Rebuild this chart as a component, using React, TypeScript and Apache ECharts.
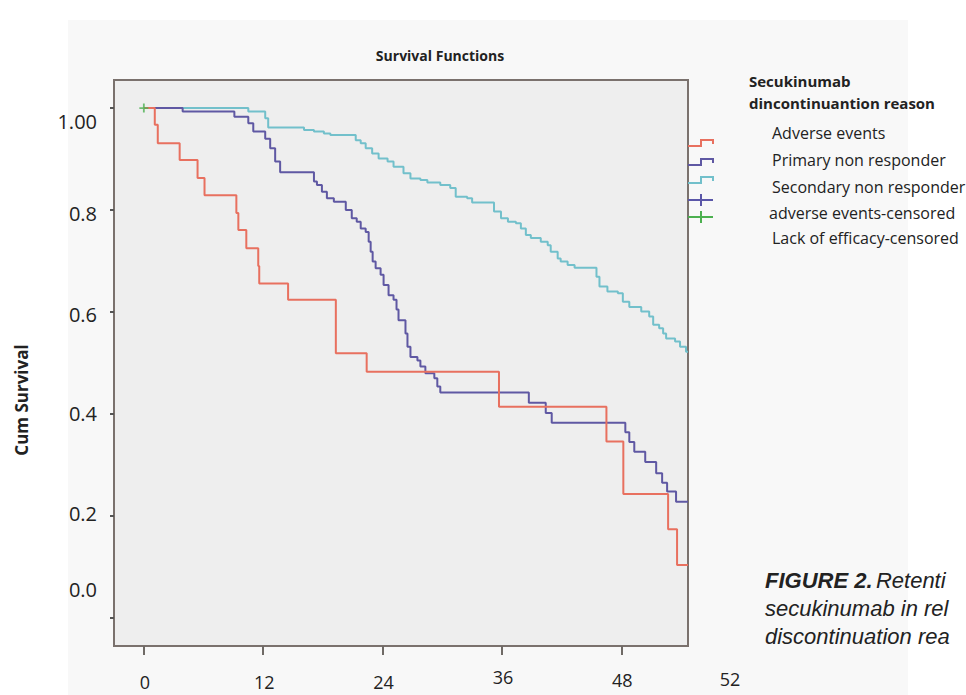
import React, { useEffect, useRef } from "react";
import * as echarts from "echarts";

const chartTitle = "Survival Functions";
const yAxisTitle = "Cum Survival";
const legendTitle = ["Secukinumab", "dincontinuantion reason"];
const seriesNames = [
  "Adverse events",
  "Primary non responder",
  "Secondary non responder",
  "adverse events-censored",
  "Lack of efficacy-censored",
];

const xTickValues = [0, 12, 24, 36, 48];
const xTickLabels = ["0", "12", "24", "36", "48"];
const xExtraLabel = "52";
const yTickValues = [0, 0.2, 0.4, 0.6, 0.8, 1.0];
const yTickLabels = ["0.0", "0.2", "0.4", "0.6", "0.8", "1.00"];

const adverseTimes = [0, 1.1, 1.4, 3.6, 5.4, 6.1, 9.3, 9.5, 10.3, 11.5, 11.6, 14.5, 19.3, 22.4, 35.7, 46.5, 48.2, 52.7, 53.6, 54.7];
const adverseSurv = [1.0, 0.967, 0.931, 0.898, 0.863, 0.829, 0.794, 0.761, 0.725, 0.69, 0.656, 0.624, 0.519, 0.483, 0.414, 0.346, 0.243, 0.174, 0.104, 0.104];

const primaryTimes = [0, 3.9, 9.1, 10.5, 11.0, 12.2, 12.7, 13.2, 13.7, 17.1, 17.4, 17.9, 18.4, 19.1, 20.3, 20.9, 21.4, 21.8, 22.3, 22.6, 22.8, 23.0, 23.3, 23.8, 24.1, 24.6, 25.1, 25.4, 25.6, 26.3, 26.5, 26.8, 27.5, 27.8, 28.3, 29.2, 29.5, 29.8, 38.7, 40.4, 41.0, 48.4, 48.8, 49.3, 50.4, 51.5, 52.1, 52.6, 53.5, 54.7];
const primarySurv = [1.0, 0.993, 0.983, 0.970, 0.954, 0.940, 0.921, 0.895, 0.874, 0.856, 0.849, 0.836, 0.823, 0.816, 0.800, 0.784, 0.777, 0.764, 0.757, 0.738, 0.718, 0.699, 0.686, 0.673, 0.653, 0.633, 0.624, 0.605, 0.584, 0.558, 0.532, 0.512, 0.505, 0.493, 0.480, 0.470, 0.454, 0.442, 0.422, 0.402, 0.383, 0.364, 0.345, 0.326, 0.306, 0.284, 0.265, 0.248, 0.228, 0.228];

const secondaryTimes = [0, 10.5, 12.2, 12.5, 16.1, 17.1, 18.1, 18.75, 21.3, 21.8, 22.3, 22.95, 23.6, 24.5, 25.1, 26.1, 26.8, 27.8, 28.5, 29.8, 30.8, 31.35, 32.5, 33.0, 35.2, 35.9, 36.6, 37.4, 37.9, 38.4, 38.9, 39.9, 40.6, 40.9, 41.6, 41.9, 42.6, 43.3, 45.5, 45.8, 46.6, 47.65, 48.15, 48.8, 50.0, 50.8, 51.2, 51.8, 52.2, 52.5, 53.4, 53.9, 54.5, 54.7];
const secondarySurv = [1.0, 0.993, 0.980, 0.962, 0.957, 0.954, 0.950, 0.947, 0.937, 0.931, 0.921, 0.911, 0.901, 0.895, 0.885, 0.872, 0.862, 0.859, 0.854, 0.849, 0.843, 0.826, 0.823, 0.815, 0.797, 0.784, 0.777, 0.774, 0.764, 0.751, 0.745, 0.738, 0.731, 0.718, 0.705, 0.699, 0.692, 0.687, 0.669, 0.650, 0.640, 0.637, 0.620, 0.610, 0.601, 0.591, 0.575, 0.568, 0.558, 0.548, 0.542, 0.532, 0.522, 0.522];

const lackCensoredTimes = [0];
const lackCensoredSurv = [1.0];

const captionLines = ["Retenti", "secukinumab in rel", "discontinuation rea"];
const captionLead = "FIGURE 2.";

const COLORS = ["#e8705f", "#5f58a3", "#72c0cb", "#5a56a8", "#4cb050"];
const TEXT = "#222222";
const FONT = '"Open Sans", "Noto Sans", sans-serif';

const zip = (t: number[], s: number[]) => t.map((v, i) => [v, s[i]]);

export default function App() {
  const ref = useRef<HTMLDivElement>(null);
  useEffect(() => {
    document.body.style.margin = "0";
    const chart = echarts.init(ref.current!, null, { renderer: "svg" });
    const stepSeries = (name: string, color: string, t: number[], s: number[]) => ({
      name,
      type: "line",
      step: "end",
      data: zip(t, s),
      symbol: "none",
      lineStyle: { color, width: 2 },
      itemStyle: { color },
      z: 3,
    });
    const option: any = {
      animation: false,
      backgroundColor: "transparent",
      grid: {
        left: 114,
        top: 80,
        right: 278,
        bottom: 49,
        show: true,
        backgroundColor: "#eeeeee",
        borderColor: "#7a716d",
        borderWidth: 2,
      },
      xAxis: {
        type: "value",
        min: -3,
        max: 54.7,
        axisLine: { show: false, onZero: false },
        splitLine: { show: false },
        axisLabel: { show: false },
        axisTick: {
          show: true,
          customValues: xTickValues,
          length: 9,
          lineStyle: { color: "#6f6a66", width: 2 },
        },
      },
      yAxis: {
        type: "value",
        min: -0.055,
        max: 1.055,
        axisLine: { show: false, onZero: false },
        splitLine: { show: false },
        axisLabel: { show: false },
        axisTick: {
          show: true,
          customValues: yTickValues,
          length: 4,
          lineStyle: { color: "#555", width: 2 },
        },
      },
      series: [
        stepSeries(seriesNames[2], COLORS[2], secondaryTimes, secondarySurv),
        stepSeries(seriesNames[1], COLORS[1], primaryTimes, primarySurv),
        stepSeries(seriesNames[0], COLORS[0], adverseTimes, adverseSurv),
        {
          name: seriesNames[4],
          type: "scatter",
          data: zip(lackCensoredTimes, lackCensoredSurv),
          symbol: "path://M4,0H6V4H10V6H6V10H4V6H0V4H4Z",
          symbolSize: 9,
          itemStyle: { color: COLORS[4] },
          z: 4,
        },
      ],
    };
    chart.setOption(option);

    const px = (v: number) => chart.convertToPixel({ xAxisIndex: 0 }, v) as number;
    const py = (v: number) => chart.convertToPixel({ yAxisIndex: 0 }, v) as number;

    const yLabelDy = [-28, -2, 0, 2, 3, 13];
    const xLabelDy = [0, 0, 0, -5, -2];
    const graphics: any[] = [];

    graphics.push({
      type: "text",
      x: 440,
      y: 55,
      style: { text: chartTitle, font: `bold 14px ${FONT}`, fill: TEXT, align: "center", verticalAlign: "middle" },
    });
    graphics.push({
      type: "text",
      x: 21,
      y: 400,
      rotation: Math.PI / 2,
      style: { text: yAxisTitle, font: `bold 17px ${FONT}`, fill: TEXT, align: "center", verticalAlign: "middle" },
    });
    yTickValues.forEach((v, i) => {
      graphics.push({
        type: "text",
        x: 97,
        y: py(v) + yLabelDy[i],
        style: { text: yTickLabels[i], font: `20px ${FONT}`, fill: TEXT, align: "right", verticalAlign: "middle" },
      });
    });
    xTickValues.forEach((v, i) => {
      graphics.push({
        type: "text",
        x: px(v) + 1,
        y: 682 + xLabelDy[i],
        style: { text: xTickLabels[i], font: `18px ${FONT}`, fill: TEXT, align: "center", verticalAlign: "middle" },
      });
    });
    graphics.push({
      type: "text",
      x: 730,
      y: 679,
      style: { text: xExtraLabel, font: `18px ${FONT}`, fill: TEXT, align: "center", verticalAlign: "middle" },
    });

    // legend
    graphics.push({
      type: "text",
      x: 749,
      y: 81,
      style: { text: legendTitle[0], font: `bold 15px ${FONT}`, fill: TEXT, align: "left", verticalAlign: "middle" },
    });
    graphics.push({
      type: "text",
      x: 749,
      y: 103,
      style: { text: legendTitle[1], font: `bold 15px ${FONT}`, fill: TEXT, align: "left", verticalAlign: "middle" },
    });
    const itemY = [133, 160, 187, 213, 238];
    const itemX = [772, 772, 772, 769, 772];
    seriesNames.forEach((n, i) => {
      graphics.push({
        type: "text",
        x: itemX[i],
        y: itemY[i],
        style: { text: n, font: `16px ${FONT}`, fill: TEXT, align: "left", verticalAlign: "middle" },
      });
    });
    const symY = [143, 162, 180, 200, 217];
    [0, 1, 2].forEach((i) => {
      const y = symY[i];
      graphics.push({
        type: "polyline",
        shape: { points: [[688, y + 3], [701, y + 3], [701, y - 3], [713, y - 3], [713, y + 1]] },
        style: { stroke: COLORS[i], lineWidth: 2, fill: null },
      });
    });
    [3, 4].forEach((i) => {
      const y = symY[i];
      graphics.push({
        type: "line",
        shape: { x1: 688, y1: y, x2: 713, y2: y },
        style: { stroke: COLORS[i], lineWidth: 2 },
      });
      graphics.push({
        type: "line",
        shape: { x1: 701, y1: y - 6, x2: 701, y2: y + 6 },
        style: { stroke: COLORS[i], lineWidth: 2 },
      });
    });

    // caption
    const capY = [580, 608, 636];
    captionLines.forEach((t, i) => {
      graphics.push({
        type: "text",
        x: 765,
        y: capY[i],
        style: {
          text: i === 0 ? `{b|${captionLead}} {i|${t}}` : `{i|${t}}`,
          rich: {
            b: { font: 'italic bold 22px "Liberation Sans", Arial, sans-serif', fill: "#222" },
            i: { font: 'italic 22px "Liberation Sans", Arial, sans-serif', fill: "#222" },
          },
          align: "left",
          verticalAlign: "middle",
        },
      });
    });

    chart.setOption({ graphic: graphics });
    return () => chart.dispose();
  }, []);

  return (
    <div style={{ position: "relative", width: 966, height: 695, background: "#ffffff", overflow: "hidden" }}>
      <div style={{ position: "absolute", left: 68, top: 20, width: 840, height: 675, background: "#f8f8f8" }} />
      <div ref={ref} style={{ position: "absolute", left: 0, top: 0, width: 966, height: 695 }} />
    </div>
  );
}
